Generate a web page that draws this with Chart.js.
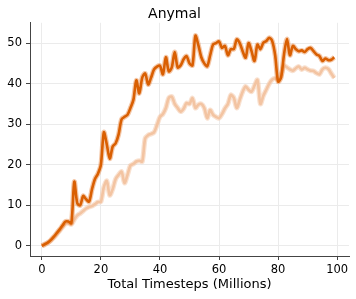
<!DOCTYPE html>
<html>
<head>
<meta charset="utf-8">
<script src="https://cdn.jsdelivr.net/npm/chart.js@4"></script>
<style>
  html, body { margin: 0; padding: 0; background: #fff; }
  #wrap { width: 356px; height: 299px; }
</style>
</head>
<body>
<div id="wrap"><canvas id="chart" width="356" height="299"></canvas></div>
<script>
// Dados (milhões de passos)
const steps = [
  0, 1, 2, 3, 4, 5, 6, 7, 8, 9, 10, 11, 12, 13, 14, 15, 16, 17, 18, 19,
  20, 21, 22, 23, 24, 25, 26, 27, 28, 29, 30, 31, 32, 33, 34, 35, 36, 37, 38, 39,
  40, 41, 42, 43, 44, 45, 46, 47, 48, 49, 50, 51, 52, 53, 54, 55, 56, 57, 58, 59,
  60, 61, 62, 63, 64, 65, 66, 67, 68, 69, 70, 71, 72, 73, 74, 75, 76, 77, 78, 79,
  80, 81, 82, 83, 84, 85, 86, 87, 88, 89, 90, 91, 92, 93, 94, 95, 96, 97, 98, 99
];

// série escura (principal)
const darkSeries = [
  0.0, 0.4, 0.8, 1.4, 2.2, 3.1, 4.0, 5.0, 6.0, 6.0,
  5.6, 15.8, 10.5, 10.0, 12.3, 11.5, 10.9, 14.0, 16.5, 17.8,
  20.0, 28.0, 25.0, 21.5, 24.5, 25.3, 27.5, 31.2, 31.8, 32.3,
  34.0, 36.0, 40.8, 37.6, 41.5, 42.5, 39.8, 41.5, 43.5, 44.2,
  44.4, 42.3, 46.5, 43.0, 44.0, 47.8, 44.0, 44.5, 46.0, 46.8,
  45.0, 44.5, 51.8, 49.5, 46.5, 45.0, 44.3, 47.0, 49.7, 50.0,
  50.4, 48.8, 49.3, 47.0, 48.5, 48.5, 50.9, 50.0, 48.0, 46.4,
  50.0, 48.0, 45.6, 49.6, 48.5, 50.1, 50.5, 51.3, 50.5, 47.0,
  40.5, 41.5, 47.2, 51.0, 47.0, 49.3, 48.5, 48.0, 48.2, 47.8,
  48.5, 48.8, 48.0, 47.2, 46.8, 45.6, 46.2, 45.8, 45.9, 46.5
];

// série clara
const lightSeries = [
  0.0, 0.3, 0.7, 1.3, 2.0, 2.8, 3.7, 4.6, 5.4, 5.6,
  5.3, 6.5, 7.5, 8.0, 8.6, 9.2, 9.6, 9.8, 10.3, 10.8,
  10.9, 14.5, 16.0, 12.5, 14.0, 16.5, 17.5, 18.3, 15.5, 17.5,
  19.8, 20.2, 20.8, 21.0, 20.8, 26.5, 27.3, 27.6, 28.0, 29.8,
  31.8, 32.5, 34.0, 36.5, 36.8, 35.0, 34.0, 33.1, 33.8, 35.2,
  35.0, 36.4, 34.0, 34.8, 35.0, 34.0, 31.5, 33.5, 32.3, 31.8,
  31.5, 32.5, 33.9, 35.0, 37.2, 36.5, 34.0, 36.0, 38.0, 39.3,
  38.5, 38.0, 39.5, 40.9, 35.0, 37.0, 38.5, 40.0, 41.0, 41.3,
  41.0, 42.0, 44.4, 44.0, 43.5, 43.2, 43.8, 44.2, 43.5, 43.9,
  43.5, 43.2, 43.1, 42.6, 42.3, 43.5, 43.9, 43.6, 42.5, 41.4
];

const xTicks = [0, 20, 40, 60, 80, 100];
const yTicks = [0, 10, 20, 30, 40, 50];

const DARK = "rgb(217, 95, 2)";
const DARK_HALO = "rgba(230, 130, 60, 0.45)";
const LIGHT = "rgb(243, 196, 162)";
const LIGHT_HALO = "rgba(243, 196, 162, 0.5)";
const FONT = "'DejaVu Sans', sans-serif";

function toPoints(values) {
  return steps.map((s, i) => ({ x: s, y: values[i] }));
}

function lineDataset(values, color, width, order) {
  return {
    data: toPoints(values),
    borderColor: color,
    borderWidth: width,
    pointRadius: 0,
    tension: 0.3,
    fill: false,
    order: order,
  };
}

function initChart() {
  const ctx = document.getElementById("chart").getContext("2d");

  new Chart(ctx, {
    type: "line",
    data: {
      datasets: [
        lineDataset(darkSeries, DARK, 2.6, 0),
        lineDataset(darkSeries, DARK_HALO, 5, 1),
        lineDataset(lightSeries, LIGHT, 2.6, 2),
        lineDataset(lightSeries, LIGHT_HALO, 5, 3),
      ],
    },
    options: {
      responsive: false,
      animation: false,
      layout: { padding: { left: 0, right: 7, top: 0, bottom: 0 } },
      plugins: {
        legend: { display: false },
        tooltip: { enabled: false },
        title: {
          display: true,
          text: "Anymal",
          color: "#000",
          font: { family: FONT, size: 14, weight: "normal" },
          padding: { top: 6, bottom: 0 },
        },
      },
      scales: {
        x: {
          type: "linear",
          min: -4,
          max: 104,
          afterBuildTicks: (scale) => {
            scale.ticks = xTicks.map((v) => ({ value: v }));
          },
          afterFit: (scale) => {
            scale.height = 43;
          },
          grid: { color: "#ebebeb", tickColor: "#444", tickLength: 4 },
          border: { color: "#444", width: 1 },
          ticks: {
            color: "#000",
            padding: 3,
            maxRotation: 0,
            font: { family: FONT, size: 11.5 },
          },
          title: {
            display: true,
            text: "Total Timesteps (Millions)",
            color: "#000",
            font: { family: FONT, size: 13 },
            padding: { top: 0, bottom: 7 },
          },
        },
        y: {
          min: -2.5,
          max: 55,
          afterBuildTicks: (scale) => {
            scale.ticks = yTicks.map((v) => ({ value: v }));
          },
          afterFit: (scale) => {
            scale.width = 30;
          },
          grid: { color: "#ebebeb", tickColor: "#444", tickLength: 4 },
          border: { color: "#444", width: 1 },
          ticks: {
            color: "#000",
            padding: 4,
            font: { family: FONT, size: 11.5 },
          },
        },
      },
    },
  });
}

document.addEventListener("DOMContentLoaded", initChart);
</script>
</body>
</html>
